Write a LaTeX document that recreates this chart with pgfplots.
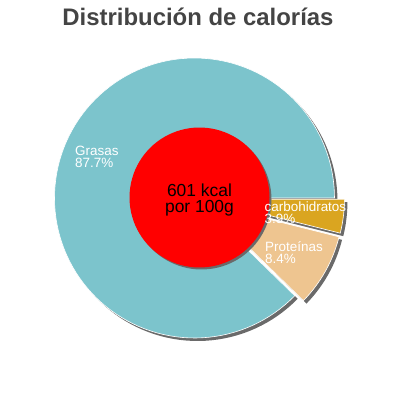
\documentclass[border=0pt]{standalone}
\usepackage{pgfplots}
\pgfplotsset{compat=1.18}
\usepackage{fontspec}
\setmainfont{Liberation Sans}
\definecolor{cgrasas}{HTML}{7CC4CC}
\definecolor{ccarb}{HTML}{DAA520}
\definecolor{cprot}{HTML}{EEC590}
\definecolor{cshadow}{HTML}{6A6A6A}
\definecolor{ctitle}{HTML}{444444}
% data (percent of calories)
\def\pG{87.7}
\def\pP{8.4}
\def\pC{3.9}
\def\kcal{601}
% geometry (pixels, y upwards)
\def\cx{194.5}
\def\cy{202}
\def\R{140}
\def\rIn{70}
\def\ex{10}
\pgfmathsetmacro\aG{3.6*\pG}
\pgfmathsetmacro\aP{\aG+3.6*\pP}
\pgfmathsetmacro\aC{\aP+3.6*\pC}
\pgfmathsetmacro\mP{(\aG+\aP)/2}
\pgfmathsetmacro\mC{(\aP+\aC)/2}
\pgfmathsetmacro\pxP{\cx+\ex*cos(\mP)}
\pgfmathsetmacro\pyP{\cy+\ex*sin(\mP)}
\pgfmathsetmacro\cxC{\cx+\ex*cos(\mC)}
\pgfmathsetmacro\cyC{\cy+\ex*sin(\mC)}
\begin{document}
\begin{tikzpicture}
\begin{axis}[width=400bp,height=400bp,scale only axis,
  xmin=0,xmax=400,ymin=0,ymax=400,hide axis,clip=false]
\path[draw=none,fill=none] (0,0) rectangle (400,400);
% shadows
\addplot[fill=cshadow,draw=none,domain=0:\aG,samples=120,variable=\t]
  ({\cx+3+\R*cos(\t)},{\cy-3+\R*sin(\t)}) -- (\cx+3,\cy-3) -- cycle;
\addplot[fill=cshadow,draw=none,domain=\aG:\aP,samples=20,variable=\t]
  ({\pxP+3+\R*cos(\t)},{\pyP-3+\R*sin(\t)}) -- (\pxP+3,\pyP-3) -- cycle;
\addplot[fill=cshadow,draw=none,domain=\aP:\aC,samples=12,variable=\t]
  ({\cxC+3+\R*cos(\t)},{\cyC-3+\R*sin(\t)}) -- (\cxC+3,\cyC-3) -- cycle;
% slices
\addplot[fill=cgrasas,draw=white,line width=0.6bp,domain=0:\aG,samples=120,variable=\t]
  ({\cx+\R*cos(\t)},{\cy+\R*sin(\t)}) -- (\cx,\cy) -- cycle;
\addplot[fill=cprot,draw=white,line width=0.6bp,domain=\aG:\aP,samples=20,variable=\t]
  ({\pxP+\R*cos(\t)},{\pyP+\R*sin(\t)}) -- (\pxP,\pyP) -- cycle;
\addplot[fill=ccarb,draw=white,line width=0.6bp,domain=\aP:\aC,samples=12,variable=\t]
  ({\cxC+\R*cos(\t)},{\cyC+\R*sin(\t)}) -- (\cxC,\cyC) -- cycle;
% centre circle
\addplot[fill=cshadow,draw=none,domain=0:360,samples=100,variable=\t]
  ({199.5+2+\rIn*cos(\t)},{202.5-2+\rIn*sin(\t)}) -- cycle;
\addplot[fill=red,draw=none,domain=0:360,samples=100,variable=\t]
  ({199.5+\rIn*cos(\t)},{202.5+\rIn*sin(\t)}) -- cycle;
% labels (anchor = baseline of last line)
\node[anchor=base west,inner sep=0,text=white,font=\fontsize{13.5}{12}\selectfont,align=left]
  at (75,232.5) {Grasas\\\pG\%};
\node[anchor=base west,inner sep=0,text=white,font=\fontsize{13.5}{12}\selectfont,align=left]
  at (264.5,176.5) {carbohidratos\\\pC\%};
\node[anchor=base west,inner sep=0,text=white,font=\fontsize{13.5}{12}\selectfont,align=left]
  at (265,136.5) {Proteínas\\\pP\%};
\node[anchor=base,inner sep=0,text=black,font=\fontsize{17.5}{16}\selectfont,align=center]
  at (199.5,187.5) {\kcal{} kcal\\por 100g};
\node[anchor=base,inner sep=0,text=ctitle,font=\bfseries\fontsize{24}{24}\selectfont]
  at (198,375) {Distribución de calorías};
\end{axis}
\end{tikzpicture}
\end{document}
